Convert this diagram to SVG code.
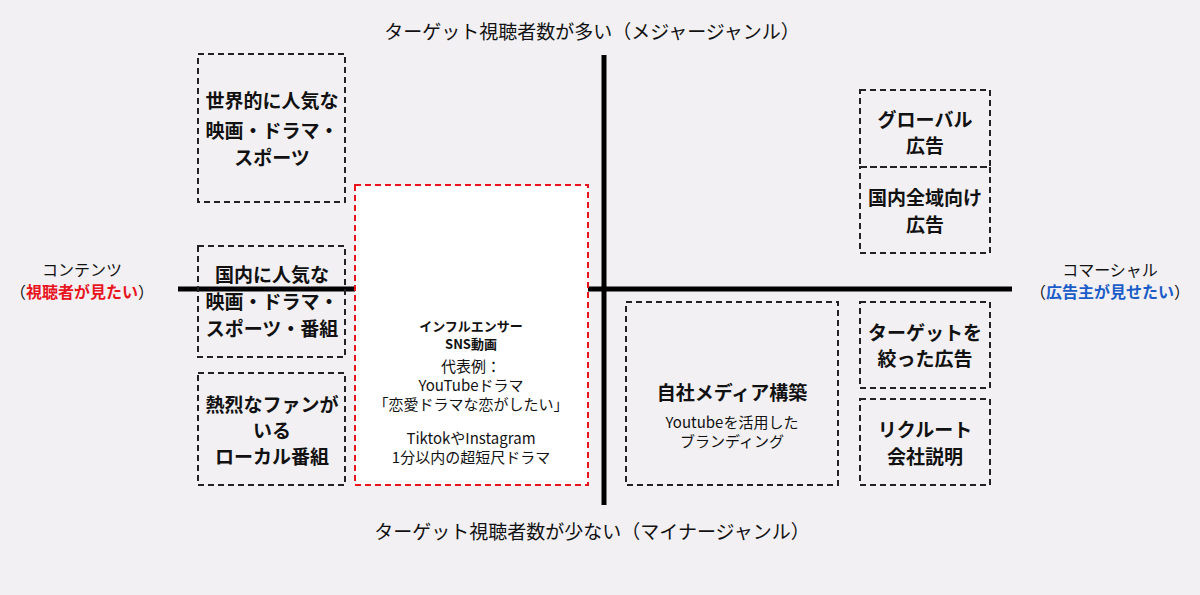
<svg xmlns="http://www.w3.org/2000/svg" width="1200" height="595" viewBox="0 0 1200 595">
<style>
text{font-family:"Noto Sans CJK JP","Noto Sans",sans-serif;fill:#111;text-anchor:middle}
.b{font-weight:bold;font-size:19px}
.ax{font-size:19px}
.box{fill:none;stroke:#222;stroke-width:2;stroke-dasharray:6 4}
.s{font-size:15px}
</style>
<rect width="1200" height="595" fill="#f2f0f3"/>
<g id="connectors" stroke="#000" stroke-width="5">
<line x1="604" y1="55" x2="604" y2="505"/>
<line x1="178" y1="289" x2="1012" y2="289"/>
</g>
<text class="ax" x="592" y="39">ターゲット視聴者数が多い（メジャージャンル）</text>
<text class="ax" x="592" y="539">ターゲット視聴者数が少ない（マイナージャンル）</text>
<g id="left-label"><text x="82" y="276" font-size="16">コンテンツ</text>
<text x="82" y="298" font-size="16">（<tspan fill="#e8141e" font-weight="bold">視聴者が見たい</tspan>）</text></g>
<g id="right-label"><text x="1110" y="276" font-size="16">コマーシャル</text>
<text x="1110" y="298" font-size="16">（<tspan fill="#1a5cc8" font-weight="bold">広告主が見せたい</tspan>）</text></g>
<g id="n1"><rect class="box" x="198" y="54" width="147" height="148"/>
<text class="b" x="272" y="108">世界的に人気な</text><text class="b" x="272" y="138">映画・ドラマ・</text><text class="b" x="272" y="165">スポーツ</text></g>
<g id="n2"><rect class="box" x="198" y="246" width="147" height="111"/>
<text class="b" x="272" y="282">国内に人気な</text><text class="b" x="272" y="309">映画・ドラマ・</text><text class="b" x="272" y="336">スポーツ・番組</text></g>
<g id="n3"><rect class="box" x="198" y="373" width="147" height="112"/>
<text class="b" x="272" y="412">熱烈なファンが</text><text class="b" x="272" y="438">いる</text><text class="b" x="272" y="464">ローカル番組</text></g>
<g id="n4"><rect x="355" y="185" width="233" height="300" fill="#fff" stroke="#e8141e" stroke-width="2" stroke-dasharray="6 4"/>
<text font-size="13" font-weight="bold" x="471" y="331">インフルエンサー</text>
<text font-size="13" font-weight="bold" x="471" y="349">SNS動画</text>
<text class="s" x="471" y="372">代表例：</text>
<text class="s" x="471" y="391">YouTubeドラマ</text>
<text class="s" x="471" y="410">「恋愛ドラマな恋がしたい」</text>
<text class="s" x="471" y="444">TiktokやInstagram</text>
<text class="s" x="471" y="463">1分以内の超短尺ドラマ</text></g>
<g id="n5"><rect class="box" x="626" y="302" width="212" height="183"/>
<text class="b" x="732" y="400">自社メディア構築</text>
<text class="s" x="732" y="428">Youtubeを活用した</text>
<text class="s" x="732" y="447">ブランディング</text></g>
<g id="n6"><rect class="box" x="860" y="90" width="130" height="77"/>
<text class="b" x="925" y="127">グローバル</text><text class="b" x="925" y="153">広告</text></g>
<g id="n7"><rect class="box" x="860" y="167" width="130" height="86"/>
<text class="b" x="925" y="205">国内全域向け</text><text class="b" x="925" y="232">広告</text></g>
<g id="n8"><rect class="box" x="860" y="302" width="130" height="86"/>
<text class="b" x="925" y="340">ターゲットを</text><text class="b" x="925" y="366">絞った広告</text></g>
<g id="n9"><rect class="box" x="860" y="399" width="130" height="86"/>
<text class="b" x="925" y="437">リクルート</text><text class="b" x="925" y="464">会社説明</text></g>
</svg>
